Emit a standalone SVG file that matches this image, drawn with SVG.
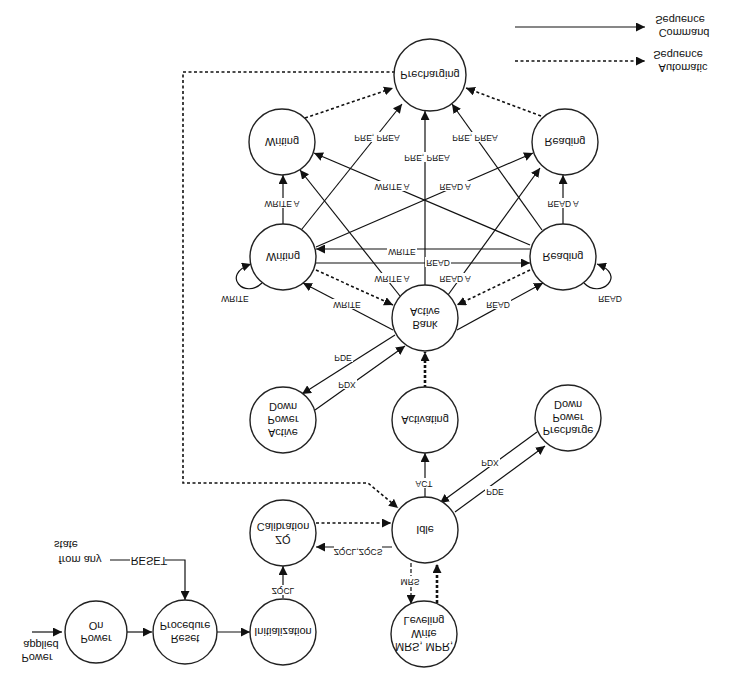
<svg xmlns="http://www.w3.org/2000/svg" width="735" height="677" viewBox="0 0 735 677">
<defs>
<marker id="a" viewBox="0 0 10 10" refX="10" refY="5" markerWidth="9" markerHeight="9" markerUnits="userSpaceOnUse" orient="auto"><path d="M0,0L10,5L0,10z" fill="#111"/></marker>
<style>
.n{fill:#fff;stroke:#222;stroke-width:1.4}
.t{font-family:"Liberation Sans",Arial,sans-serif;font-size:11px;text-anchor:middle;fill:#111}
.l{font-family:"Liberation Sans",Arial,sans-serif;font-size:8.5px;text-anchor:middle;fill:#111}
.s{fill:none;stroke:#111;stroke-width:1.2;marker-end:url(#a)}
.d{fill:none;stroke:#111;stroke-width:1.6;stroke-dasharray:3,2.5;marker-end:url(#a)}
.D{fill:none;stroke:#111;stroke-width:2.6;stroke-dasharray:3,2;marker-end:url(#a)}
.lb{fill:#fff}
</style>
</defs>
<rect width="735" height="677" fill="#fff"/>
<g id="connectors">
<path class="s" d="M515,27H645"/>
<path class="d" d="M515,61H645"/>
<path class="d" d="M305,118L393,88"/>
<path class="d" d="M541,116L466,88"/>
<path class="s" d="M302,229L402,104"/>
<path class="s" d="M425,285V111"/>
<path class="s" d="M542,230L452,104"/>
<path class="s" d="M283,224V175"/>
<path class="s" d="M563,224V175"/>
<path class="s" d="M400,296L300,170"/>
<path class="s" d="M530,245L314,153"/>
<path class="s" d="M316,247L533,153"/>
<path class="s" d="M448,295L540,168"/>
<path class="s" d="M530,249H316"/>
<path class="s" d="M316,263H530"/>
<path class="d" d="M316,270L393,305"/>
<path class="d" d="M530,270L457,305"/>
<path class="s" d="M393,330L303,283"/>
<path class="s" d="M457,330L543,283"/>
<path class="s" d="M262,283C245,300 220,275 251,264"/>
<path class="s" d="M584,283C600,300 628,275 597,264"/>
<path class="s" d="M395,335L302,394"/>
<path class="s" d="M315,410L405,346"/>
<path class="s" d="M425,497V453" stroke-width="1.8"/>
<path class="D" d="M425,388V352"/>
<path class="s" d="M455,512L545,446"/>
<path class="s" d="M537,432L440,503"/>
<path class="d" d="M316,523H391"/>
<path class="s" d="M392,547H316"/>
<path class="s" d="M283,598V566"/>
<path class="s" d="M411,563V604" stroke-dasharray="4,2"/>
<path class="D" d="M437,603V564"/>
<path class="s" d="M32,632H62"/>
<path class="s" d="M124,632H152"/>
<path class="s" d="M214,632H250"/>
<path class="s" d="M110,560H130M165,560H185V600"/>
<path class="d" d="M395,72H183V483H368L398,508"/>
</g>
<g id="labels">
<g class="l">
<rect class="lb" x="355" y="132" width="44" height="10"/><text transform="matrix(1,0,0,-1,377,135)">PRE, PREA</text>
<rect class="lb" x="405" y="152" width="44" height="10"/><text transform="matrix(1,0,0,-1,427,155)">PRE, PREA</text>
<rect class="lb" x="453" y="132" width="44" height="10"/><text transform="matrix(1,0,0,-1,475,135)">PRE, PREA</text>
<rect class="lb" x="374" y="181" width="36" height="10"/><text transform="matrix(1,0,0,-1,392,184)">WRITE A</text>
<rect class="lb" x="438" y="181" width="34" height="10"/><text transform="matrix(1,0,0,-1,455,184)">READ A</text>
<rect class="lb" x="264" y="198" width="36" height="10"/><text transform="matrix(1,0,0,-1,282,201)">WRITE A</text>
<rect class="lb" x="546" y="198" width="34" height="10"/><text transform="matrix(1,0,0,-1,563,201)">READ A</text>
<rect class="lb" x="387" y="246" width="30" height="10"/><text transform="matrix(1,0,0,-1,402,249)">WRITE</text>
<rect class="lb" x="425" y="257" width="26" height="10"/><text transform="matrix(1,0,0,-1,438,260)">READ</text>
<rect class="lb" x="374" y="273" width="36" height="10"/><text transform="matrix(1,0,0,-1,392,276)">WRITE A</text>
<rect class="lb" x="438" y="273" width="34" height="10"/><text transform="matrix(1,0,0,-1,455,276)">READ A</text>
<text transform="matrix(1,0,0,-1,235,296)">WRITE</text>
<text transform="matrix(1,0,0,-1,610,296)">READ</text>
<rect class="lb" x="332" y="299" width="30" height="10"/><text transform="matrix(1,0,0,-1,347,302)">WRITE</text>
<rect class="lb" x="485" y="299" width="26" height="10"/><text transform="matrix(1,0,0,-1,498,302)">READ</text>
<rect class="lb" x="333" y="352" width="20" height="10"/><text transform="matrix(1,0,0,-1,343,355)">PDE</text>
<rect class="lb" x="337" y="379" width="20" height="10"/><text transform="matrix(1,0,0,-1,347,382)">PDX</text>
<rect class="lb" x="414" y="478" width="20" height="10"/><text transform="matrix(1,0,0,-1,424,481)">ACT</text>
<rect class="lb" x="480" y="457" width="20" height="10"/><text transform="matrix(1,0,0,-1,490,460)">PDX</text>
<rect class="lb" x="485" y="486" width="20" height="10"/><text transform="matrix(1,0,0,-1,495,489)">PDE</text>
<rect class="lb" x="334" y="546" width="48" height="10"/><text transform="matrix(1,0,0,-1,358,549)">ZQCL,ZQCS</text>
<rect class="lb" x="270" y="585" width="26" height="10"/><text transform="matrix(1,0,0,-1,283,588)">ZQCL</text>
<rect class="lb" x="400" y="576" width="20" height="10"/><text transform="matrix(1,0,0,-1,410,579)">MRS</text>
</g>
<g class="t">
<text transform="matrix(1,0,0,-1,149,557)">RESET</text>
<text transform="matrix(1,0,0,-1,80,556)">from any</text>
<text transform="matrix(1,0,0,-1,66,541)">state</text>
<text transform="matrix(1,0,0,-1,37,654)">Power</text>
<text transform="matrix(1,0,0,-1,41,641)">applied</text>
<text transform="matrix(1,0,0,-1,680,16)">Sequence</text>
<text transform="matrix(1,0,0,-1,684,29)">Command</text>
<text transform="matrix(1,0,0,-1,678,51)">Sequence</text>
<text transform="matrix(1,0,0,-1,683,64)">Automatic</text>
</g>
</g>
<g id="precharging"><circle class="n" cx="430" cy="75" r="36"/><text class="t" transform="matrix(1,0,0,-1,430,71)">Precharging</text></g>
<g id="writing-top"><circle class="n" cx="282" cy="142" r="33"/><text class="t" transform="matrix(1,0,0,-1,282,138)">Writing</text></g>
<g id="reading-top"><circle class="n" cx="565" cy="142" r="33"/><text class="t" transform="matrix(1,0,0,-1,565,138)">Reading</text></g>
<g id="writing-mid"><circle class="n" cx="283" cy="257" r="33"/><text class="t" transform="matrix(1,0,0,-1,283,253)">Writing</text></g>
<g id="reading-mid"><circle class="n" cx="563" cy="257" r="33"/><text class="t" transform="matrix(1,0,0,-1,563,253)">Reading</text></g>
<g id="bank-active"><circle class="n" cx="425" cy="318" r="33"/><text class="t" transform="matrix(1,0,0,-1,425,308)">Active</text><text class="t" transform="matrix(1,0,0,-1,425,321)">Bank</text></g>
<g id="active-pd"><circle class="n" cx="283" cy="420" r="33"/><text class="t" transform="matrix(1,0,0,-1,283,403)">Down</text><text class="t" transform="matrix(1,0,0,-1,283,416)">Power</text><text class="t" transform="matrix(1,0,0,-1,283,429)">Active</text></g>
<g id="activating"><circle class="n" cx="425" cy="420" r="33"/><text class="t" transform="matrix(1,0,0,-1,425,416)">Activating</text></g>
<g id="precharge-pd"><circle class="n" cx="568" cy="418" r="33"/><text class="t" transform="matrix(1,0,0,-1,568,401)">Down</text><text class="t" transform="matrix(1,0,0,-1,568,414)">Power</text><text class="t" transform="matrix(1,0,0,-1,568,427)">Precharge</text></g>
<g id="idle"><circle class="n" cx="425" cy="530" r="33"/><text class="t" transform="matrix(1,0,0,-1,425,526)">Idle</text></g>
<g id="zq"><circle class="n" cx="283" cy="533" r="33"/><text class="t" transform="matrix(1,0,0,-1,283,523)">Calibration</text><text class="t" transform="matrix(1,0,0,-1,283,536)">ZQ</text></g>
<g id="power-on"><circle class="n" cx="96" cy="632" r="31"/><text class="t" transform="matrix(1,0,0,-1,96,622)">On</text><text class="t" transform="matrix(1,0,0,-1,96,635)">Power</text></g>
<g id="reset"><circle class="n" cx="185" cy="632" r="32"/><text class="t" transform="matrix(1,0,0,-1,185,622)">Procedure</text><text class="t" transform="matrix(1,0,0,-1,185,635)">Reset</text></g>
<g id="init"><circle class="n" cx="283" cy="632" r="33"/><text class="t" transform="matrix(1,0,0,-1,283,628)">Initialization</text></g>
<g id="mrs"><circle class="n" cx="424" cy="634" r="33"/><text class="t" transform="matrix(1,0,0,-1,424,617)">Leveling</text><text class="t" transform="matrix(1,0,0,-1,424,630)">Write</text><text class="t" transform="matrix(1,0,0,-1,424,643)">MRS, MPR,</text></g>
</svg>
